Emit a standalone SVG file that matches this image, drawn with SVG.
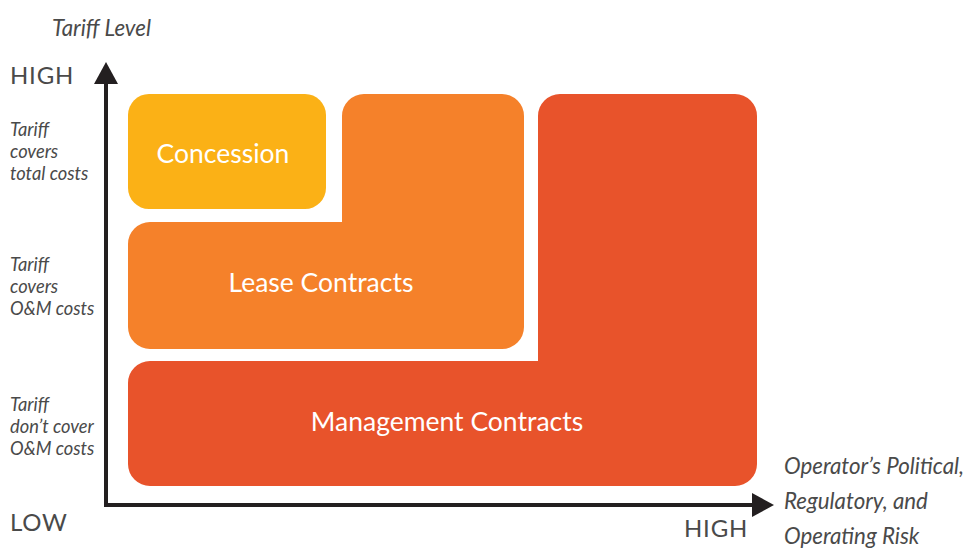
<svg xmlns="http://www.w3.org/2000/svg" width="965" height="550" viewBox="0 0 965 550">
<style>
.lbl{font-family:Lato,"Open Sans","Liberation Sans",sans-serif;fill:#4a4a4a}
.it{font-style:italic;font-size:18.3px}
.hl{font-size:24px;letter-spacing:0.8px}
.ax{font-style:italic;font-size:22.3px}
.bx{font-family:Lato,"Open Sans","Liberation Sans",sans-serif;fill:#ffffff;font-size:26.5px;text-anchor:middle}
</style>
<defs>
<marker id="arr" markerWidth="6" markerHeight="6" refX="1" refY="3" orient="auto" markerUnits="strokeWidth">
<path d="M0,0 L5.5,3 L0,6 Z" fill="#231f20"/>
</marker>
</defs>
<rect width="965" height="550" fill="#ffffff"/>
<g id="management">
<path d="M128,383 A22,22 0 0 1 150,361 H538 V116 A22,22 0 0 1 560,94 H735 A22,22 0 0 1 757,116 V464 A22,22 0 0 1 735,486 H150 A22,22 0 0 1 128,464 Z" fill="#e8532b"/>
<text class="bx" x="447" y="431">Management Contracts</text>
</g>
<g id="lease">
<path d="M128,244 A22,22 0 0 1 150,222 H342 V116 A22,22 0 0 1 364,94 H502 A22,22 0 0 1 524,116 V327 A22,22 0 0 1 502,349 H150 A22,22 0 0 1 128,327 Z" fill="#f5812a"/>
<text class="bx" x="321" y="292">Lease Contracts</text>
</g>
<g id="concession">
<rect x="128" y="94" width="198" height="115" rx="21" fill="#fbb116"/>
<text class="bx" x="223" y="163">Concession</text>
</g>
<g id="connectors" stroke="#231f20" stroke-width="4" fill="none">
<path d="M106,505 V80" marker-end="url(#arr)"/>
<path d="M104,505 H756" marker-end="url(#arr)"/>
</g>
<g id="labels">
<text class="lbl ax" x="52" y="36">Tariff Level</text>
<text class="lbl hl" x="10" y="84">HIGH</text>
<text class="lbl hl" x="10" y="531">LOW</text>
<text class="lbl hl" x="684" y="537">HIGH</text>
<text class="lbl it" x="10" y="136">Tariff</text>
<text class="lbl it" x="10" y="158">covers</text>
<text class="lbl it" x="10" y="180">total costs</text>
<text class="lbl it" x="10" y="271">Tariff</text>
<text class="lbl it" x="10" y="293">covers</text>
<text class="lbl it" x="10" y="315">O&amp;M costs</text>
<text class="lbl it" x="10" y="411">Tariff</text>
<text class="lbl it" x="10" y="433">don’t cover</text>
<text class="lbl it" x="10" y="455">O&amp;M costs</text>
<text class="lbl ax" x="784" y="474">Operator’s Political,</text>
<text class="lbl ax" x="784" y="509">Regulatory, and</text>
<text class="lbl ax" x="784" y="544">Operating Risk</text>
</g>
</svg>
